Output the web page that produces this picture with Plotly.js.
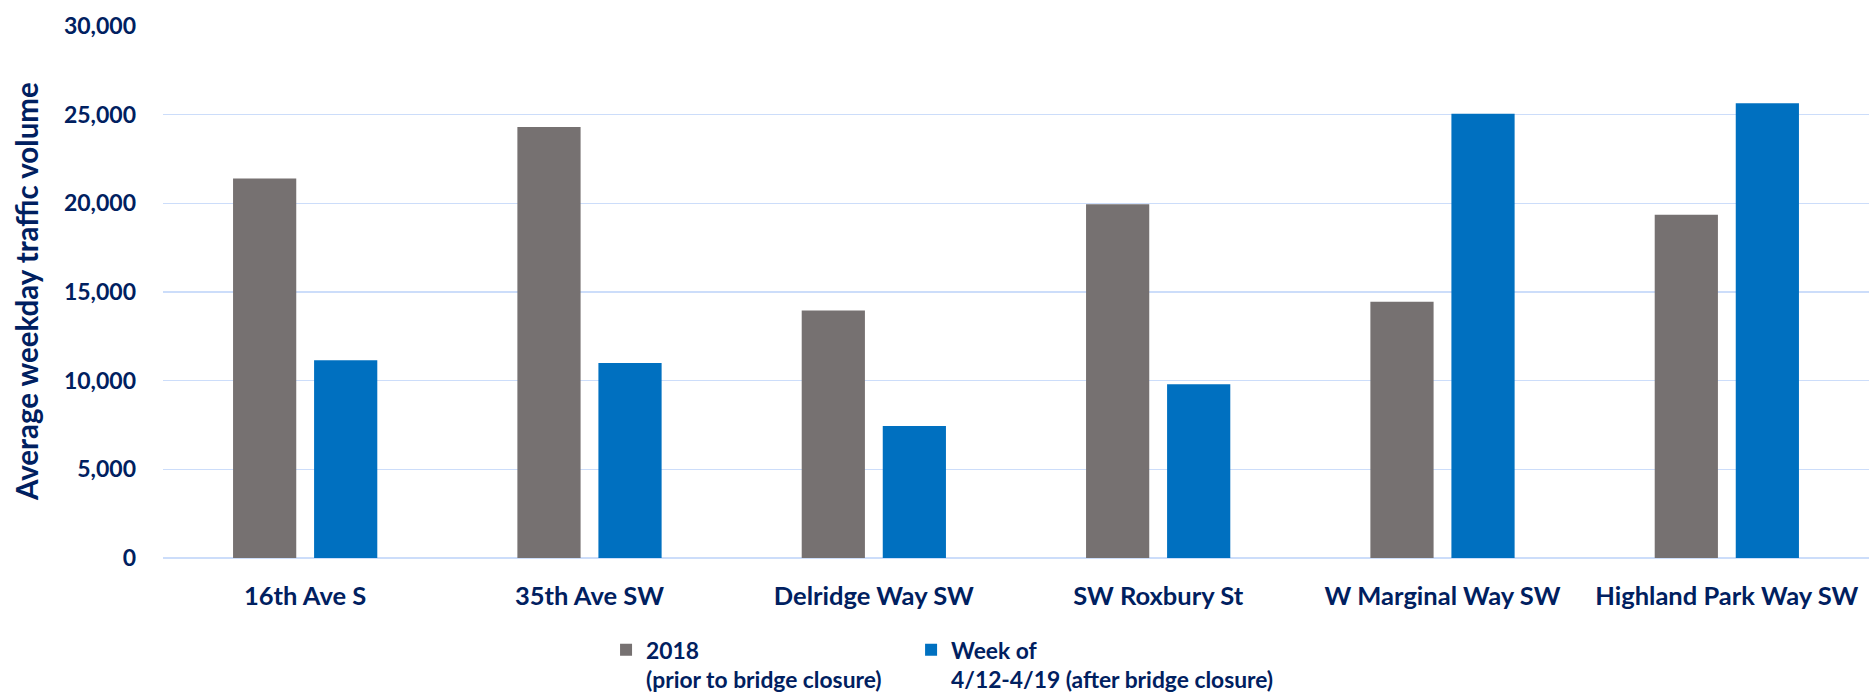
<!DOCTYPE html>
<html>
<head>
<meta charset="utf-8">
<script src="https://cdn.plot.ly/plotly-3.0.1.min.js"></script>
<style>
html, body { margin: 0; padding: 0; background: #ffffff; }
#chart { width: 1869px; height: 694px; }
</style>
</head>
<body>
<div id="chart"></div>
<script>
var categories = ["16th Ave S", "35th Ave SW", "Delridge Way SW", "SW Roxbury St", "W Marginal Way SW", "Highland Park Way SW"];
var values2018 = [21400, 24300, 13950, 19950, 14450, 19350];
var valuesAfter = [11150, 11000, 7450, 9800, 25050, 25650];
var seriesNames = ["2018<br>(prior to bridge closure)", "Week of<br>4/12-4/19 (after bridge closure)"];
var yTickVals = [0, 5000, 10000, 15000, 20000, 25000, 30000];
var yTickText = ["0", "5,000", "10,000", "15,000", "20,000", "25,000", "30,000"];
var yTitle = "Average weekday traffic volume";

var textColor = "#002060";
var gridColor = "#CCDDFA";
var fontFamily = "Lato, 'Open Sans', sans-serif";

var traces = [
  { type: "bar", x: categories, y: values2018, name: seriesNames[0], legend: "legend",
    marker: { color: "#767171" }, hoverinfo: "x+y" },
  { type: "bar", x: categories, y: valuesAfter, name: seriesNames[1], legend: "legend2",
    marker: { color: "#0070C0" }, hoverinfo: "x+y" }
];

var legendFont = { family: fontFamily, size: 22.8, color: textColor, weight: "bold" };

var layout = {
  width: 1869, height: 694,
  paper_bgcolor: "#ffffff", plot_bgcolor: "#ffffff",
  margin: { l: 163, r: 0, t: 26, b: 136, pad: 0, autoexpand: false },
  barmode: "group",
  bargap: 0.43,
  bargroupgap: 0.22,
  font: { family: fontFamily, color: textColor, size: 20, weight: "bold" },
  xaxis: {
    type: "category",
    showgrid: false, showline: false, zeroline: false,
    ticks: "",
    tickfont: { family: fontFamily, size: 25.5, color: textColor, weight: "bold" },
    ticklabelstandoff: 20,
    automargin: false,
    fixedrange: true
  },
  yaxis: {
    range: [0, 30000],
    tickvals: yTickVals, ticktext: yTickText,
    showgrid: true, gridcolor: gridColor, gridwidth: 1.6,
    zeroline: true, zerolinecolor: gridColor, zerolinewidth: 1.6,
    showline: false, ticks: "",
    ticklabelstandoff: 26,
    tickfont: { family: fontFamily, size: 23, color: textColor, weight: "bold" },
    automargin: false,
    fixedrange: true
  },
  annotations: [{
    text: yTitle, xref: "paper", yref: "paper",
    x: -0.0803, y: 0.5, xanchor: "center", yanchor: "middle",
    textangle: -90, showarrow: false,
    font: { family: fontFamily, size: 29.5, color: textColor, weight: "bold" }
  }],
  showlegend: true,
  legend: {
    orientation: "v",
    x: 0.2597, xanchor: "left",
    y: -0.1325, yanchor: "top",
    valign: "top", itemwidth: 30,
    font: legendFont,
    bgcolor: "rgba(0,0,0,0)"
  },
  legend2: {
    orientation: "v",
    x: 0.4385, xanchor: "left",
    y: -0.1325, yanchor: "top",
    valign: "top", itemwidth: 30,
    font: legendFont,
    bgcolor: "rgba(0,0,0,0)"
  }
};

Plotly.newPlot("chart", traces, layout, { displayModeBar: false, staticPlot: true });
</script>
</body>
</html>
